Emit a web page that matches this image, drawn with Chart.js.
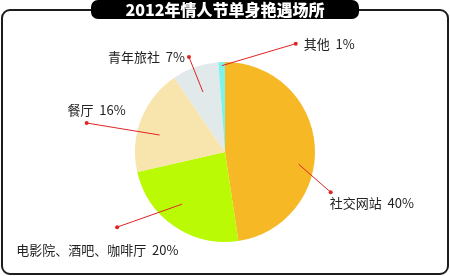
<!DOCTYPE html>
<html>
<head>
<meta charset="utf-8">
<script src="https://cdn.jsdelivr.net/npm/chart.js@4/dist/chart.umd.min.js"></script>
<style>
  html, body { margin: 0; padding: 0; background: #fff; }
  #wrap { position: relative; width: 450px; height: 276px; }
</style>
</head>
<body>
<div id="wrap"><canvas id="c"></canvas></div>
<script>
const title = '2012年情人节单身艳遇场所';
const categories = ['社交网站', '电影院、酒吧、咖啡厅', '餐厅', '青年旅社', '其他'];
const shares = [40, 20, 16, 7, 1];
const sliceColors = ['#f6b825', '#bbfa05', '#f8e4ad', '#e1e9ea', '#7ff3ea'];

// where each leader line starts inside its slice, and where the dot / text sit
const labelLayout = [
  { at: 0.58, r: 0.83, dot: [32, 28],  text: [-1, 11],  align: 'left' },
  { at: 0.56, r: 0.75, dot: [-65, 23], text: [-101, 23], align: 'left' },
  { at: 0.40, r: 0.75, dot: [-73, -12], text: [39, -13], align: 'right' },
  { at: 0.47, r: 0.71, dot: [-14, -35], text: [-4, 0],  align: 'right' },
  { at: 0.50, r: 0.96, dot: [74, -22], text: [8, 0],    align: 'left' }
];

function roundRect(ctx, x, y, w, h, r) {
  ctx.beginPath();
  ctx.moveTo(x + r, y);
  ctx.lineTo(x + w - r, y);
  ctx.arcTo(x + w, y, x + w, y + r, r);
  ctx.lineTo(x + w, y + h - r);
  ctx.arcTo(x + w, y + h, x + w - r, y + h, r);
  ctx.lineTo(x + r, y + h);
  ctx.arcTo(x, y + h, x, y + h - r, r);
  ctx.lineTo(x, y + r);
  ctx.arcTo(x, y, x + r, y, r);
  ctx.closePath();
}

const framePlugin = {
  id: 'frame',
  beforeDraw(chart) {
    const ctx = chart.ctx;
    ctx.save();
    ctx.fillStyle = '#fff';
    ctx.fillRect(0, 0, chart.width, chart.height);
    roundRect(ctx, 2, 10, 446, 264, 8);
    ctx.lineWidth = 2;
    ctx.strokeStyle = '#1c1c1c';
    ctx.stroke();
    // title pill
    roundRect(ctx, 91, 0, 268, 19, 7);
    ctx.fillStyle = '#000';
    ctx.fill();
    ctx.fillStyle = '#fff';
    ctx.font = '900 16px "Noto Sans CJK SC", sans-serif';
    ctx.textAlign = 'center';
    ctx.textBaseline = 'middle';
    ctx.fillText(title, 225, 10);
    ctx.restore();
  }
};

const leaderPlugin = {
  id: 'leaders',
  afterDraw(chart) {
    const ctx = chart.ctx;
    const arcs = chart.getDatasetMeta(0).data;
    ctx.save();
    arcs.forEach((arc, i) => {
      const L = labelLayout[i];
      const a = arc.startAngle + (arc.endAngle - arc.startAngle) * L.at;
      const sx = arc.x + Math.cos(a) * arc.outerRadius * L.r;
      const sy = arc.y + Math.sin(a) * arc.outerRadius * L.r;
      const dx = sx + L.dot[0];
      const dy = sy + L.dot[1];
      ctx.strokeStyle = '#e02424';
      ctx.lineWidth = 1;
      ctx.beginPath();
      ctx.moveTo(sx, sy);
      ctx.lineTo(dx, dy);
      ctx.stroke();
      ctx.fillStyle = '#e02424';
      ctx.beginPath();
      ctx.arc(dx, dy, 2, 0, Math.PI * 2);
      ctx.fill();
      ctx.fillStyle = '#222';
      ctx.font = '13px "Noto Sans CJK SC", sans-serif';
      ctx.textAlign = L.align;
      ctx.textBaseline = 'middle';
      ctx.fillText(categories[i] + '  ' + shares[i] + '%', dx + L.text[0], dy + L.text[1]);
    });
    ctx.restore();
  }
};

new Chart(document.getElementById('c'), {
  type: 'pie',
  data: {
    labels: categories,
    datasets: [{
      data: shares,
      backgroundColor: sliceColors,
      borderWidth: 0
    }]
  },
  options: {
    responsive: true,
    maintainAspectRatio: false,
    animation: false,
    layout: { padding: { top: 62, bottom: 34, left: 0, right: 0 } },
    plugins: {
      legend: { display: false },
      tooltip: { enabled: false }
    }
  },
  plugins: [framePlugin, leaderPlugin]
});
</script>
</body>
</html>
